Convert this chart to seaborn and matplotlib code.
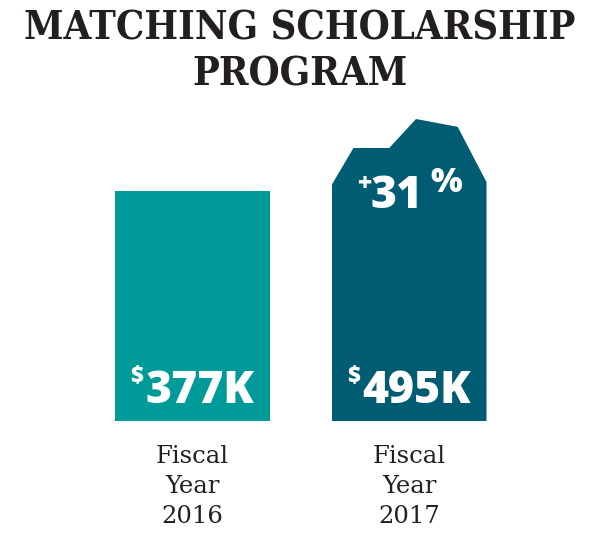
import matplotlib
matplotlib.use('Agg')
import matplotlib.pyplot as plt
from matplotlib.patches import Polygon
import pandas as pd
import seaborn as sns

# ---------------------------------------------------------------------------
# Dane
# ---------------------------------------------------------------------------
years = ['2016', '2017']
tick_labels = ['Fiscal\nYear\n2016', 'Fiscal\nYear\n2017']
values = [377, 495]  # tys. USD
value_labels = ['377K', '495K']
growth_label = '31'
bar_colors = ['#009b98', '#005c72']

# ksztalt "skalistego" wierzcholka slupka 2017: (ulamek szerokosci, ulamek wysokosci)
ROCK_TOP = [(0.0, 0.781), (0.141, 0.904), (0.372, 0.904), (0.545, 1.0),
            (0.814, 0.974), (1.0, 0.791)]

W, H = 600, 548
SERIF = ['DejaVu Serif']
SANS = ['Open Sans', 'DejaVu Sans']

sns.set_theme(style='white')
plt.rcParams['font.family'] = SANS

fig = plt.figure(figsize=(W / 100, H / 100), dpi=100)
fig.patch.set_facecolor('white')
ax = fig.add_axes([0, 127 / H, 1, 321 / H])

df = pd.DataFrame({'year': years, 'value': values})
sns.barplot(data=df, x='year', y='value', hue='year', palette=bar_colors,
            saturation=1, width=0.714, linewidth=0, legend=False, ax=ax)

ax.set_xlim(-0.885, 1.880)
ax.set_ylim(0, 495 * 321 / 302)
for s in ax.spines.values():
    s.set_visible(False)
ax.set_yticks([])
ax.set_xlabel('')
ax.set_ylabel('')
ax.set_xticks(range(len(years)))
ax.set_xticklabels(tick_labels, family=SERIF, fontsize=17.5, color='#231f20',
                   linespacing=1.41)
ax.tick_params(axis='x', length=0, pad=17)

# przycinanie slupka 2017 do nieregularnego wierzcholka
bar = ax.patches[1]
x0, w, h = bar.get_x(), bar.get_width(), bar.get_height()
pts = [(x0, 0)] + [(x0 + fx * w, fy * h) for fx, fy in ROCK_TOP] + [(x0 + w, 0)]
clip = Polygon(pts, closed=True, transform=ax.transData)
bar.set_clip_path(clip)

# etykiety wartosci
for i, lab in enumerate(value_labels):
    ax.annotate(lab, xy=(i, 0), xytext=(8, 18), textcoords='offset pixels',
                ha='center', va='baseline', color='white', fontsize=32,
                fontweight=800)
    ax.annotate('$', xy=(i, 0), xytext=(-55, 38), textcoords='offset pixels',
                ha='center', va='baseline', color='white', fontsize=16,
                fontweight=800)

ax.annotate(growth_label, xy=(1, 0), xytext=(-12, 213), textcoords='offset pixels',
            ha='center', va='baseline', color='white', fontsize=32, fontweight=800)
ax.annotate('+', xy=(1, 0), xytext=(-45, 230), textcoords='offset pixels',
            ha='center', va='baseline', color='white', fontsize=18, fontweight=800)
ax.annotate('%', xy=(1, 0), xytext=(37, 229), textcoords='offset pixels',
            ha='center', va='baseline', color='white', fontsize=24, fontweight=800)

# tytul - dopasowany do szerokosci
t1 = fig.text(0.5, 1 - 40 / H, 'MATCHING SCHOLARSHIP', ha='center', va='baseline',
              fontsize=30, fontweight='bold', family=SERIF, fontstretch='condensed',
              color='#231f20')
fig.canvas.draw()
size = 30 * 552 / t1.get_window_extent().width
t1.set_fontsize(size)
fig.text(0.5, 1 - 85 / H, 'PROGRAM', ha='center', va='baseline',
         fontsize=size, fontweight='bold', family=SERIF, fontstretch='condensed',
         color='#231f20')

fig.savefig('out.png', dpi=100, facecolor='white')
